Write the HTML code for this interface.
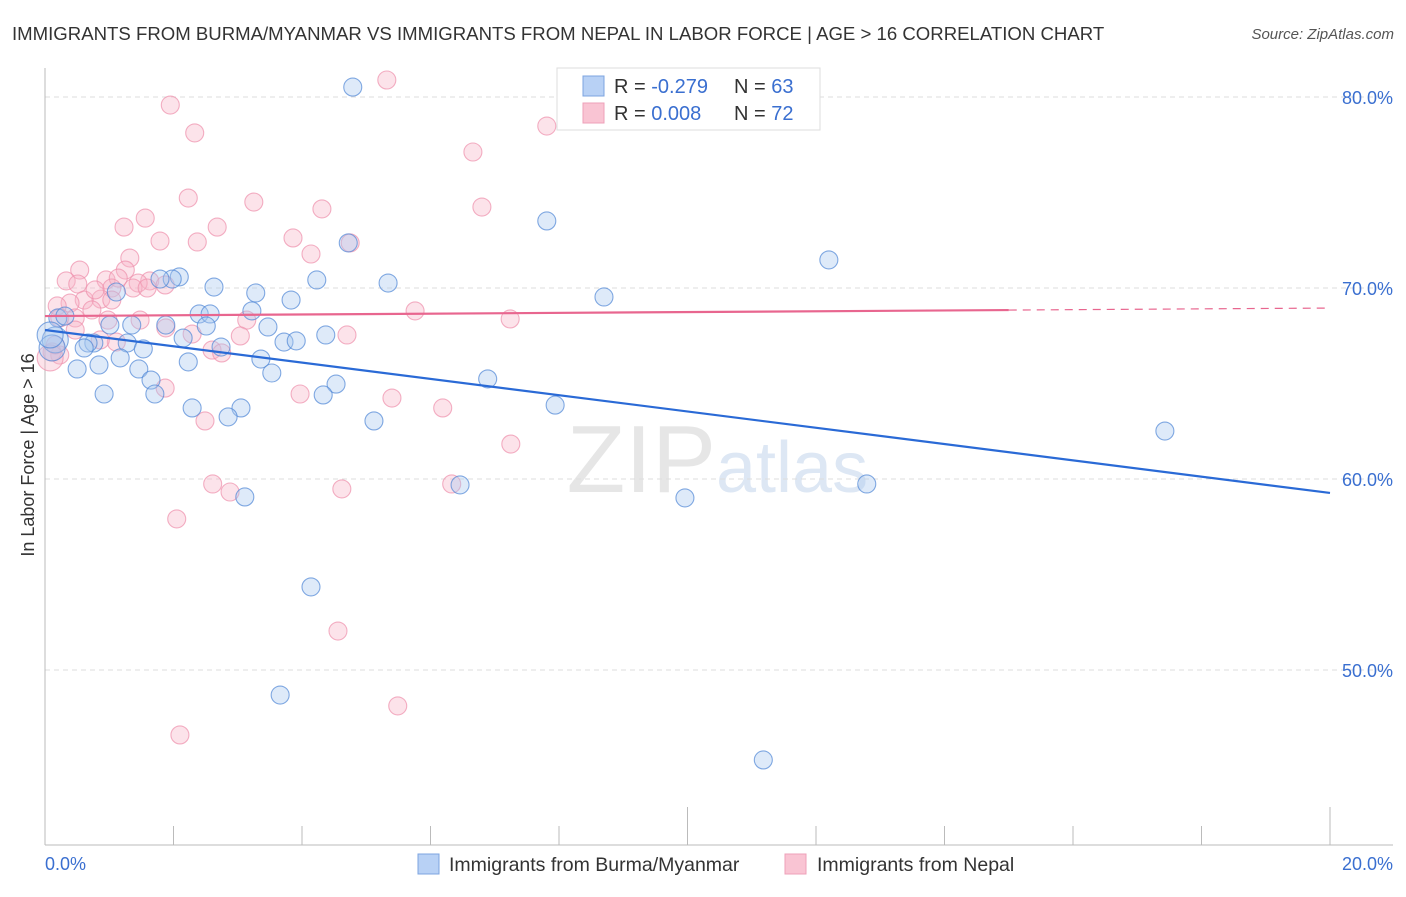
<!DOCTYPE html>
<html><head><meta charset="utf-8"><style>
body{margin:0;background:#fff;font-family:"Liberation Sans",sans-serif;}
svg text{font-family:"Liberation Sans",sans-serif;}
</style></head><body>
<svg width="1406" height="892" xmlns="http://www.w3.org/2000/svg">
<text x="12" y="40" font-size="18.6" fill="#333">IMMIGRANTS FROM BURMA/MYANMAR VS IMMIGRANTS FROM NEPAL IN LABOR FORCE | AGE &gt; 16 CORRELATION CHART</text>
<text x="1394" y="39" font-size="15" fill="#555" font-style="italic" text-anchor="end">Source: ZipAtlas.com</text>
<text x="716" y="492" font-size="96" fill="#e6e6e6" font-family="Liberation Serif" text-anchor="end">ZIP</text>
<text x="716" y="492" font-size="72" fill="#dde7f4">atlas</text>
<g id="grid"></g>
<g id="axes"></g>
<g id="pts"></g>
<g id="trend"></g>
<text transform="translate(34,455) rotate(-90)" font-size="18" fill="#333" text-anchor="middle">In Labor Force | Age &gt; 16</text>
<text x="45" y="870" font-size="18" fill="#3a6fd0">0.0%</text>
<text x="1393" y="870" font-size="18" fill="#3a6fd0" text-anchor="end">20.0%</text>
<g>
<rect x="557" y="68" width="263" height="62" fill="#fff" stroke="#ddd"/>
<rect x="583" y="76" width="21" height="20" fill="#b8d1f5" stroke="#7da4e0"/>
<rect x="583" y="103" width="21" height="20" fill="#f9c4d3" stroke="#eea0b8"/>
<text x="614" y="93" font-size="20" fill="#333">R = <tspan fill="#3a6fd0">-0.279</tspan></text>
<text x="734" y="93" font-size="20" fill="#333">N = <tspan fill="#3a6fd0">63</tspan></text>
<text x="614" y="120" font-size="20" fill="#333">R = <tspan fill="#3a6fd0"> 0.008</tspan></text>
<text x="734" y="120" font-size="20" fill="#333">N = <tspan fill="#3a6fd0">72</tspan></text>
</g>
<g>
<rect x="418" y="854" width="21" height="20" fill="#b8d1f5" stroke="#7da4e0"/>
<text x="449" y="871" font-size="19.5" fill="#333">Immigrants from Burma/Myanmar</text>
<rect x="785" y="854" width="21" height="20" fill="#f9c4d3" stroke="#eea0b8"/>
<text x="817" y="871" font-size="19.5" fill="#333">Immigrants from Nepal</text>
</g>
</svg>
<script>
const yTicks=[80,70,60,50];
const yTickLabels=["80.0%","70.0%","60.0%","50.0%"];
const xTicks=[0,2,4,6,8,10,12,14,16,18,20];
const blueX=[4.79,7.81,12.20,17.43,8.70,5.34,4.23,4.72,2.09,1.98,1.79,2.63,3.28,3.83,1.11,2.40,2.57,3.22,2.51,3.47,1.88,1.35,1.01,0.20,0.31,0.76,0.67,0.61,1.28,1.53,2.15,2.74,3.72,3.91,4.37,1.17,2.23,3.36,0.50,0.84,1.46,3.53,1.65,6.89,4.53,0.92,1.71,4.33,2.29,3.05,2.85,5.12,7.94,6.46,3.11,9.96,12.79,4.14,3.66,11.18,0.16,0.11,0.08];
const blueY=[80.52,73.51,71.47,62.51,69.53,70.26,70.42,72.36,70.58,70.47,70.47,70.05,69.74,69.37,69.79,68.64,68.64,68.80,68.01,67.96,68.06,68.06,68.06,68.43,68.53,67.12,67.12,66.86,67.12,66.81,67.38,66.91,67.17,67.23,67.54,66.34,66.13,66.28,65.76,65.97,65.76,65.55,65.18,65.24,64.97,64.45,64.45,64.40,63.72,63.72,63.25,63.04,63.87,59.69,59.06,59.01,59.74,54.35,48.69,45.29,67.28,66.86,67.54];
const pinkX=[5.32,1.95,2.33,7.81,11.21,6.66,6.80,3.25,4.31,2.23,1.56,2.68,1.23,1.79,2.37,3.86,4.14,4.75,1.32,0.54,0.33,0.51,1.25,0.95,1.14,1.63,1.45,1.87,1.04,1.37,1.59,0.87,0.61,0.39,0.19,1.04,0.73,0.23,0.47,1.48,0.98,1.88,2.29,3.14,3.04,4.70,5.76,7.24,1.11,2.60,2.75,0.23,0.11,1.87,3.97,5.40,6.19,2.49,7.25,2.61,2.88,4.62,6.33,2.05,4.56,5.49,2.10,0.86,0.16,0.08,0.47,0.78];
const pinkY=[80.89,79.58,78.12,78.48,78.90,77.12,74.24,74.50,74.14,74.71,73.66,73.19,73.19,72.46,72.41,72.62,71.78,72.36,71.57,70.94,70.37,70.21,70.94,70.42,70.52,70.37,70.26,70.16,70.0,70.0,70.0,69.42,69.37,69.21,69.06,69.37,68.85,68.43,68.43,68.32,68.32,67.91,67.59,68.32,67.49,67.54,68.80,68.38,67.17,66.75,66.60,66.49,66.65,64.76,64.45,64.24,63.72,63.04,61.83,59.74,59.32,59.48,59.74,57.91,52.04,48.12,46.60,67.28,67.02,66.34,67.80,69.90];
const blueTrend=[67.8,59.27];
const pinkTrend=[68.53,68.95];
const pinkSolidEnd=15;
const NS="http://www.w3.org/2000/svg";
const X=v=>45+v*64.25, Y=v=>97+(80-v)*19.1;
function mk(tag,at,parent){const e=document.createElementNS(NS,tag);for(const k in at)e.setAttribute(k,at[k]);parent.appendChild(e);return e;}
const grid=document.getElementById('grid'),axes=document.getElementById('axes'),pts=document.getElementById('pts'),tr=document.getElementById('trend');
yTicks.forEach((t,i)=>{
 const l=mk('line',{x1:45,x2:1393,y1:Y(t),y2:Y(t),stroke:'#ddd','stroke-dasharray':'5,4'},grid);
 
 
 const tx=mk('text',{x:1393,y:Y(t)+7,'font-size':18,fill:'#3a6fd0','text-anchor':'end'},grid);
 tx.textContent=yTickLabels[i];
 
 
});
const ya=mk('line',{x1:45,x2:45,y1:68,y2:845,stroke:'#bbb'},axes);


const xa=mk('line',{x1:45,x2:1393,y1:845,y2:845,stroke:'#bbb'},axes);


xTicks.forEach(t=>{
 const tall=(t===10||t===20);
 const l=mk('line',{x1:X(t),x2:X(t),y1:tall?807:826,y2:845,stroke:'#bbb'},axes);
 
 
});
function dots(xs,ys,fill,stroke,name){
 xs.forEach((x,i)=>{
  const big=x<0.2&&i>=xs.length-3;
  const c=mk('circle',{cx:X(x),cy:Y(ys[i]),r:big?13:9,fill:fill,'fill-opacity':0.38,stroke:stroke,'stroke-opacity':0.7,'stroke-width':1.1},pts);
  
  
 });
}
dots(pinkX,pinkY,'#f7b6c8','#ee8fab','nepal-point');
dots(blueX,blueY,'#a9c7f0','#4f86d6','burma-point');
const bl=mk('line',{x1:X(0),x2:X(20),y1:Y(blueTrend[0]),y2:Y(blueTrend[1]),stroke:'#2a6ad6','stroke-width':2.2},tr);


const pm=pinkTrend[0]+(pinkTrend[1]-pinkTrend[0])*pinkSolidEnd/20;
const pl=mk('line',{x1:X(0),x2:X(pinkSolidEnd),y1:Y(pinkTrend[0]),y2:Y(pm),stroke:'#e8668f','stroke-width':2.2},tr);


const pd=mk('line',{x1:X(pinkSolidEnd),x2:X(20),y1:Y(pm),y2:Y(pinkTrend[1]),stroke:'#e8668f','stroke-width':1.2,'stroke-dasharray':'8,6'},tr);


</script>
</body></html>
